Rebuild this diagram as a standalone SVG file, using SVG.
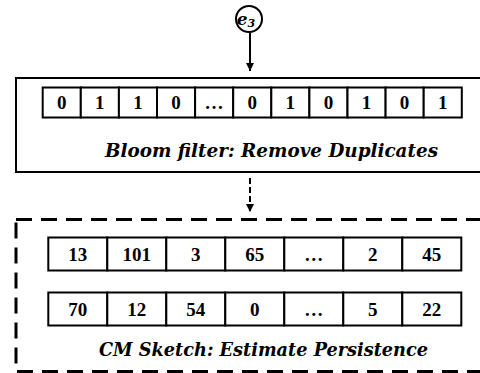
<svg xmlns="http://www.w3.org/2000/svg" width="480" height="373" viewBox="0 0 480 373">
<style>
.cell{fill:#fff;stroke:#000;stroke-width:2}
.num{font-family:"Liberation Serif",serif;font-weight:bold;font-size:19px;text-anchor:middle;fill:#000}
.lbl{font-family:"DejaVu Serif",serif;font-weight:bold;font-style:italic;font-size:18px;text-anchor:middle;fill:#000}
.conn{stroke:#000;stroke-width:2;fill:none}
</style>
<defs>
<marker id="ah" viewBox="0 0 10 10" refX="10" refY="5" markerWidth="4" markerHeight="4" orient="auto" markerUnits="strokeWidth">
<path d="M0,0 L10,5 L0,10 z" fill="#000"/>
</marker>
</defs>
<rect width="480" height="373" fill="#fff"/>
<g id="e3">
<circle cx="249" cy="19" r="13" fill="#fff" stroke="#000" stroke-width="2"/>
<text x="246" y="25" font-family="DejaVu Serif,serif" font-style="italic" font-weight="bold" font-size="17" text-anchor="middle">e<tspan font-size="11" dy="2">3</tspan></text>
</g>
<g id="connectors">
<line class="conn" x1="250" y1="33" x2="250" y2="71" marker-end="url(#ah)"/>
<line class="conn" x1="250" y1="178" x2="250" y2="212" stroke-dasharray="6 3" marker-end="url(#ah)"/>
</g>
<g id="bloom">
<rect x="16" y="78" width="470" height="94" fill="none" stroke="#000" stroke-width="2"/>
<g>
<rect class="cell" x="42.7" y="87.5" width="38.1" height="30"/>
<rect class="cell" x="80.8" y="87.5" width="38.1" height="30"/>
<rect class="cell" x="118.9" y="87.5" width="38.1" height="30"/>
<rect class="cell" x="157" y="87.5" width="38.1" height="30"/>
<rect class="cell" x="195.1" y="87.5" width="38.1" height="30"/>
<rect class="cell" x="233.2" y="87.5" width="38.1" height="30"/>
<rect class="cell" x="271.3" y="87.5" width="38.1" height="30"/>
<rect class="cell" x="309.4" y="87.5" width="38.1" height="30"/>
<rect class="cell" x="347.5" y="87.5" width="38.1" height="30"/>
<rect class="cell" x="385.6" y="87.5" width="38.1" height="30"/>
<rect class="cell" x="423.7" y="87.5" width="38.1" height="30"/>
</g>
<text class="num" x="61.7" y="109">0</text>
<text class="num" x="99.8" y="109">1</text>
<text class="num" x="137.9" y="109">1</text>
<text class="num" x="176" y="109">0</text>
<text class="num" x="214.1" y="109">…</text>
<text class="num" x="252.2" y="109">0</text>
<text class="num" x="290.3" y="109">1</text>
<text class="num" x="328.4" y="109">0</text>
<text class="num" x="366.5" y="109">1</text>
<text class="num" x="404.6" y="109">0</text>
<text class="num" x="442.7" y="109">1</text>
<text class="lbl" x="271.5" y="157" textLength="333" lengthAdjust="spacingAndGlyphs">Bloom filter: Remove Duplicates</text>
</g>
<g id="cmsketch">
<rect x="16" y="219.5" width="470" height="152" fill="none" stroke="#000" stroke-width="3" stroke-dasharray="16 9"/>
<g>
<rect class="cell" x="48.3" y="237.5" width="59" height="33"/>
<rect class="cell" x="107.3" y="237.5" width="59" height="33"/>
<rect class="cell" x="166.3" y="237.5" width="59" height="33"/>
<rect class="cell" x="225.3" y="237.5" width="59" height="33"/>
<rect class="cell" x="284.3" y="237.5" width="59" height="33"/>
<rect class="cell" x="343.3" y="237.5" width="59" height="33"/>
<rect class="cell" x="402.3" y="237.5" width="59" height="33"/>
<rect class="cell" x="48.3" y="292.5" width="59" height="33"/>
<rect class="cell" x="107.3" y="292.5" width="59" height="33"/>
<rect class="cell" x="166.3" y="292.5" width="59" height="33"/>
<rect class="cell" x="225.3" y="292.5" width="59" height="33"/>
<rect class="cell" x="284.3" y="292.5" width="59" height="33"/>
<rect class="cell" x="343.3" y="292.5" width="59" height="33"/>
<rect class="cell" x="402.3" y="292.5" width="59" height="33"/>
</g>
<text class="num" x="77.8" y="261">13</text>
<text class="num" x="136.8" y="261">101</text>
<text class="num" x="195.8" y="261">3</text>
<text class="num" x="254.8" y="261">65</text>
<text class="num" x="313.8" y="261">…</text>
<text class="num" x="372.8" y="261">2</text>
<text class="num" x="431.8" y="261">45</text>
<text class="num" x="77.8" y="316">70</text>
<text class="num" x="136.8" y="316">12</text>
<text class="num" x="195.8" y="316">54</text>
<text class="num" x="254.8" y="316">0</text>
<text class="num" x="313.8" y="316">…</text>
<text class="num" x="372.8" y="316">5</text>
<text class="num" x="431.8" y="316">22</text>
<text class="lbl" x="263.5" y="356" textLength="329" lengthAdjust="spacingAndGlyphs">CM Sketch: Estimate Persistence</text>
</g>
</svg>
